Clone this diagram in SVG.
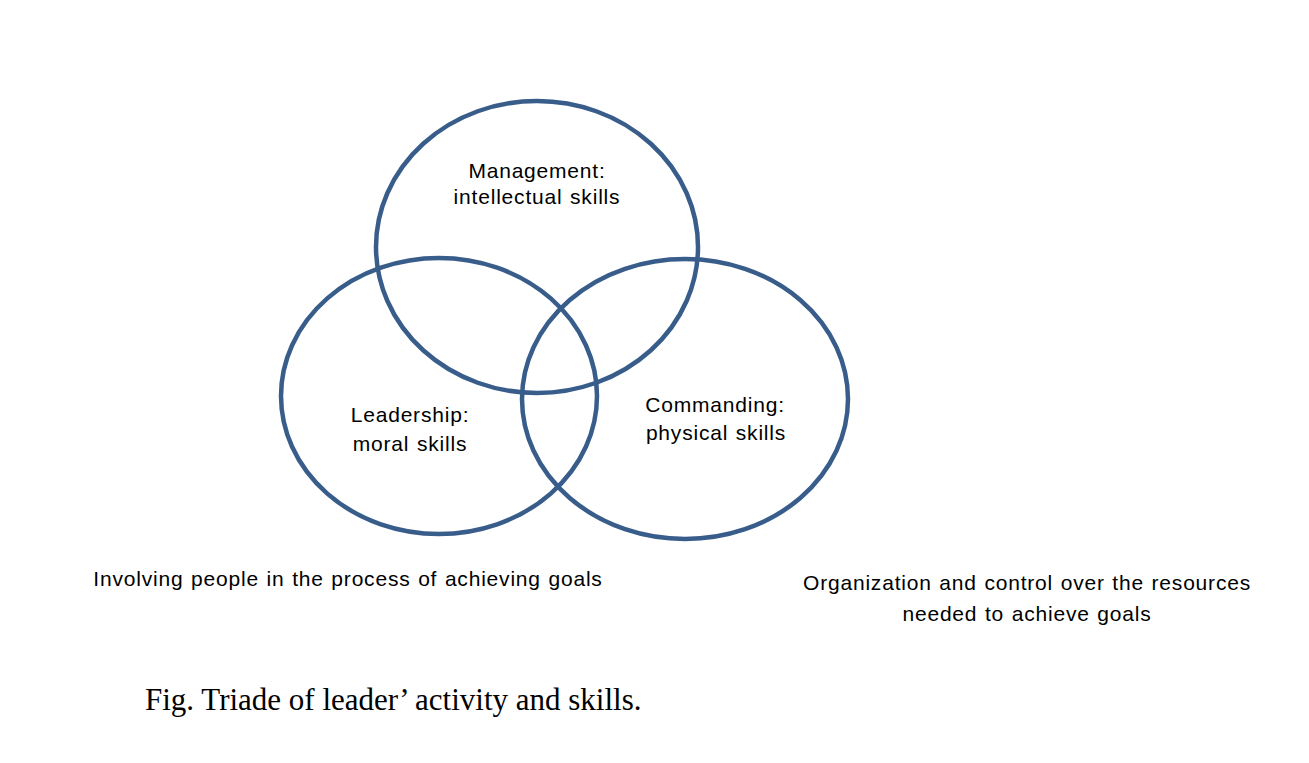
<svg xmlns="http://www.w3.org/2000/svg" width="1309" height="763" viewBox="0 0 1309 763">
<style>
.c{fill:none;stroke:#385d8a;stroke-width:4.5}
.t{font-family:"Liberation Sans",Arial,sans-serif;font-size:21px;letter-spacing:0.8px;word-spacing:1px;fill:#000;text-anchor:middle}
.cap{font-family:"Liberation Serif","Times New Roman",serif;font-size:31px;fill:#000}
</style>
<rect width="1309" height="763" fill="#fff"/>
<g id="management">
<ellipse class="c" cx="537" cy="247" rx="161" ry="146"/>
<text class="t" x="537" y="178">Management:</text>
<text class="t" x="537" y="204">intellectual skills</text>
</g>
<g id="leadership">
<ellipse class="c" cx="439" cy="396" rx="158" ry="138"/>
<text class="t" x="410" y="422">Leadership:</text>
<text class="t" x="410" y="451">moral skills</text>
</g>
<g id="commanding">
<ellipse class="c" cx="685" cy="399" rx="163" ry="140"/>
<text class="t" x="715" y="412">Commanding:</text>
<text class="t" x="716" y="440">physical skills</text>
</g>
<g id="labels">
<text class="t" x="348" y="586">Involving people in the process of achieving goals</text>
<text class="t" x="1027" y="590">Organization and control over the resources</text>
<text class="t" x="1027" y="621">needed to achieve goals</text>
</g>
<g id="connectors"></g>
<text class="cap" x="145" y="710">Fig. Triade of leader’ activity and skills.</text>
</svg>
